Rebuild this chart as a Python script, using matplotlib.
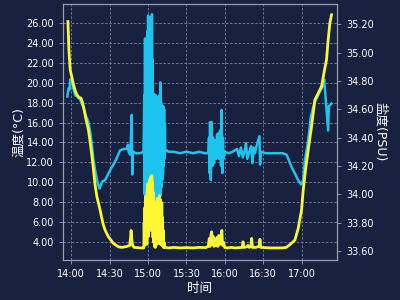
import numpy as np
import matplotlib
matplotlib.use('Agg')
import matplotlib.pyplot as plt
import matplotlib.dates as mdates

plt.rcParams['font.family'] = ['DejaVu Sans', 'Noto Sans CJK SC']

# minutes after 14:00 and temperature (C)
t_temp = [-2.65, -1.9, -0.9, 0.5, 1.7, 3.0, 4.3, 6.0, 7.5, 8.5, 9.5, 11.6, 13.4, 14.7,
          16.3, 17.5, 18.6, 20.0, 22.5, 24.7, 26.4, 29.0, 32.9, 36.8, 39.7, 43.4, 45.6,
          46.3, 46.7, 47.2, 47.9, 49.1, 53.8, 56.5,
          56.7, 56.9, 57.2, 57.5, 57.8, 58.1, 58.4, 58.7, 59.0, 59.3, 59.6, 59.9, 60.2,
          60.5, 60.8, 61.1, 61.4, 61.7, 62.0, 62.3, 62.6, 62.9, 63.2, 63.5, 63.8, 64.1,
          64.4, 64.7, 65.0, 65.3, 65.6, 65.9, 66.2, 66.5, 66.8, 67.1, 67.4, 67.7, 68.0,
          68.3, 68.6, 68.9, 69.2, 69.5, 69.8, 70.1, 70.4, 70.7, 71.0, 71.3, 71.6, 71.9,
          72.2, 72.5, 72.7,
          73.3, 76, 80, 85, 90, 95, 100, 105, 107, 107.8, 108.4, 109.2, 109.7, 110.2,
          110.8, 111.5, 112.2, 113, 113.8, 114.5, 115.3, 116, 116.8, 117.6, 118.2, 119,
          119.8, 122, 125, 128, 131, 133.5, 134.2, 134.8, 137, 138, 139, 140.3, 140.9,
          141.5, 144, 146.8, 147.4, 148, 152, 156, 160, 165, 168, 171, 174.7, 177.3,
          179.9, 181.2, 183.0, 185.1, 187.7, 190.3, 192.9, 195.5, 198.1, 199.4, 200.7,
          202.0, 203.3]
temp = [26.1, 23.3, 21.3, 20.5, 19.8, 19.2, 18.8, 18.5, 18.45, 18.1, 17.6, 16.25, 15.25, 14.05,
        12.45, 11.04, 9.74, 8.57, 7.24, 5.9, 5.23, 4.56, 3.9, 3.56, 3.5, 3.6, 3.7,
        4.5, 5.2, 4.4, 3.7, 3.5, 3.45, 3.45,
        3.5, 6.0, 3.7, 7.5, 4.0, 8.6, 4.5, 8.2, 3.8, 9.2, 5.0, 9.9, 4.6,
        9.6, 5.5, 10.2, 6.0, 10.4, 5.2, 10.6, 6.5, 10.7, 5.8, 10.0, 4.5, 9.0,
        4.0, 5.5, 3.6, 4.2, 3.5, 4.5, 3.7, 8.0, 4.0, 8.4, 4.5, 7.6, 3.9,
        7.8, 4.8, 8.7, 4.2, 8.3, 3.8, 7.5, 4.5, 8.0, 3.7, 6.5, 3.6, 5.2,
        3.5, 4.0, 3.5,
        3.5, 3.45, 3.5, 3.45, 3.48, 3.45, 3.5, 3.48, 3.6, 4.4, 3.6, 4.8, 5.06, 3.8,
        4.6, 3.6, 4.3, 3.7, 4.5, 3.6, 4.7, 3.8, 4.2, 5.2, 3.7, 4.0,
        3.5, 3.45, 3.5, 3.45, 3.48, 3.5, 4.06, 3.5, 3.55, 3.7, 3.5, 3.6, 4.4,
        3.5, 3.5, 3.6, 4.3, 3.5, 3.47, 3.45, 3.45, 3.45, 3.5, 3.8, 4.23, 5.4,
        7.24, 9.24, 11.24, 13.25, 15.58, 18.26, 18.93, 19.6, 21.43, 22.27, 24.27,
        25.94, 26.78]

# minutes after 14:00 and salinity (PSU)
t_sal = [-3.1, -2.65, -2.0, -1.3, -0.9, 0.0, 0.5, 1.5, 3.0, 4.4, 6.8, 9.1, 11.5, 13.4,
         15.1, 16.3, 17.3, 19.0, 20.6, 22.0, 22.9, 24.1, 26.4, 30.3, 34.2, 38.1, 41.1,
         43.4, 44.2, 44.8, 46.0, 46.8, 47.2, 47.6, 47.9, 48.3, 50.6, 53.8, 56.4,
         57.1, 57.3, 57.6, 57.9, 58.2, 58.5, 58.8, 59.1, 59.4, 59.7, 60.0, 60.3, 60.6,
         60.9, 61.2, 61.5, 61.8, 62.1, 62.4, 62.7, 63.0, 63.3, 63.6, 63.9, 64.2, 64.5,
         64.8, 65.1, 65.4, 65.7, 66.0, 66.3, 66.6, 66.9, 67.2, 67.5, 67.8, 68.1, 68.4,
         68.7, 69.0, 69.3, 69.5, 69.8, 70.1, 70.4, 70.7, 71.0, 71.3, 71.6, 71.9, 72.2,
         72.5, 72.8, 73.1, 73.4,
         74.5, 76, 80, 85, 90, 95, 100, 104, 107.0, 107.6, 108, 108.4, 109, 109.7, 110.2,
         110.7, 111.5, 112.3, 113.1, 113.8, 114.8, 115.4, 116.2, 117, 117.5, 118, 118.5,
         118.9, 119.7, 123, 126, 129.5, 131, 132.5, 134, 135.5, 136.5, 137.5, 139, 140.5,
         141.5, 142.5, 143.5, 145, 147.0, 147.5, 148, 152, 156, 160, 165, 168.2, 172,
         177.3, 179.4, 181.2, 182.5, 185.1, 187.2, 189.8, 192.9, 196.8, 197.6, 199.4,
         200.7, 201.2, 203.3]
sal = [34.69, 34.72, 34.75, 34.74, 34.81, 34.78, 34.80, 34.75, 34.70, 34.69, 34.67, 34.62, 34.55, 34.51,
       34.42, 34.33, 34.24, 34.15, 34.08, 34.04, 34.06, 34.09, 34.10, 34.17, 34.23, 34.31, 34.32,
       34.32, 34.35, 34.30, 34.28, 34.45, 34.56, 34.14, 34.25, 34.30, 34.29, 34.29, 34.30,
       34.70, 34.00, 35.10, 33.75, 35.05, 33.70, 34.95, 33.65, 35.15, 33.70, 35.26, 33.75, 35.20,
       33.80, 35.22, 33.78, 35.25, 33.75, 35.24, 33.80, 35.27, 33.85, 34.95, 33.90, 34.71, 33.85,
       34.70, 33.80, 34.69, 33.85, 34.70, 33.88, 34.69, 33.90, 34.68, 33.92, 34.68, 33.95, 34.66,
       33.95, 34.70, 33.98, 34.79, 34.00, 34.65, 34.05, 34.63, 34.10, 34.62, 34.15, 34.62, 34.20,
       34.60, 34.25, 34.50, 34.30,
       34.31, 34.30, 34.30, 34.29, 34.30, 34.29, 34.30, 34.29, 34.29, 34.40, 34.15, 34.51, 34.10, 34.51, 34.20,
       34.40, 34.22, 34.38, 34.25, 34.42, 34.43, 34.25, 34.45, 34.20, 34.595, 34.15, 34.40,
       34.25, 34.30, 34.29, 34.30, 34.32, 34.27, 34.33, 34.26, 34.31, 34.36, 34.25, 34.30, 34.34,
       34.22, 34.33, 34.29, 34.35, 34.41, 34.21, 34.30, 34.29, 34.29, 34.29, 34.29, 34.28, 34.195,
       34.10, 34.07, 34.10, 34.24, 34.38, 34.55, 34.64, 34.70, 34.77, 34.81, 34.60,
       34.45, 34.62, 34.64]

temp_ticks = np.arange(4, 27, 2)
sal_ticks = np.arange(33.6, 35.21, 0.2)

base = np.datetime64('2020-01-01T14:00')
def to_time(m):
    return base + (np.array(m) * 60).astype('timedelta64[s]')

bg = '#182240'
fg = 'white'
spine_c = '#9aa0b0'

fig = plt.figure(figsize=(4, 3), dpi=100, facecolor=bg)
ax = fig.add_subplot(111)
fig.subplots_adjust(left=0.1575, right=0.8425, top=0.987, bottom=0.133)
ax.set_facecolor(bg)
ax2 = ax.twinx()
ax3 = ax.twinx()

ax2.plot(to_time(t_sal), sal, color='#1cc4ee', lw=1.8)
ax3.plot(to_time(t_temp), temp, color='#fdf734', lw=2.0)

ax.set_xlim(to_time(-6.5), to_time(207.6))
ax.set_ylim(2.23, 27.87)
ax3.set_ylim(ax.get_ylim())
ax3.axis('off')
ax2.set_ylim(33.536, 35.343)

ax.set_yticks(temp_ticks)
ax.set_yticklabels(['%.2f' % v for v in temp_ticks])
ax2.set_yticks(sal_ticks)
ax2.set_yticklabels(['%.2f' % v for v in sal_ticks])
ax.xaxis.set_major_locator(mdates.MinuteLocator(byminute=[0, 30]))
ax.xaxis.set_major_formatter(mdates.DateFormatter('%H:%M'))

ax.grid(True, color='#7d8498', ls='--', lw=0.6, dashes=(3, 2))
for a in (ax, ax2):
    a.tick_params(colors=fg, labelsize=7, length=3, width=0.6)
    a.tick_params(axis='both', color=spine_c)
    for s in a.spines.values():
        s.set_color(spine_c)
        s.set_linewidth(0.8)

ax.set_xlabel('时间', color=fg, fontsize=9, labelpad=2)
ax.set_ylabel('温度(°C)', color=fg, fontsize=9, labelpad=1)
ax2.set_ylabel('盐度(PSU)', color=fg, fontsize=9, rotation=270, labelpad=9)

fig.savefig('out.png', dpi=100, facecolor=bg)
